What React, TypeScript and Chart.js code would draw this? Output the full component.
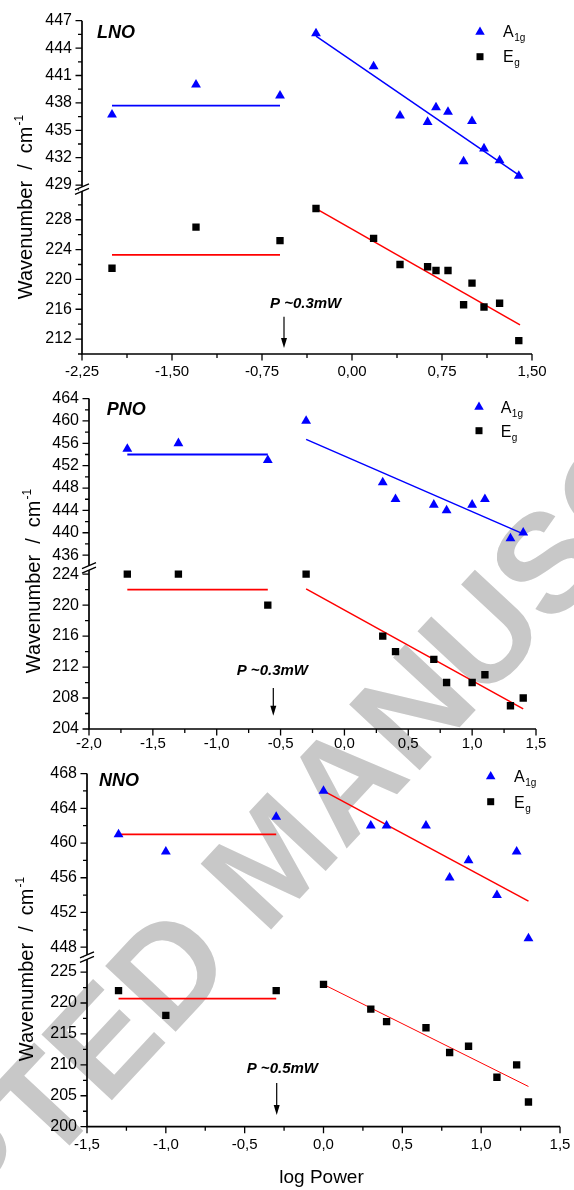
import React, { useEffect, useRef } from "react";
import { Chart, registerables } from "chart.js";

Chart.register(...registerables);

const FONT = "'Liberation Sans', Arial, Helvetica, sans-serif";
const BLUE = "#0000ff";
const RED = "#ff0000";

// ---------------- LNO ----------------
const LNO_X = [-2.0, -1.3, -0.6, -0.3, 0.18, 0.4, 0.63, 0.7, 0.8, 0.93, 1.0, 1.1, 1.23, 1.39];
const LNO_A1G = [436.7, 440.0, 438.8, 445.6, 442.0, 436.6, 435.9, 437.5, 437.0, 431.6, 436.0, 433.0, 431.7, 430.0];
const LNO_EG = [221.5, 227.0, 225.2, 229.5, 225.5, 222.0, 221.7, 221.2, 221.2, 216.6, 219.5, 216.3, 216.8, 211.8];
const LNO_A1G_FIT1_X = [-2.0, -0.6];
const LNO_A1G_FIT1_Y = [437.7, 437.7];
const LNO_A1G_FIT2_X = [-0.3, 1.4];
const LNO_A1G_FIT2_Y = [445.3, 430.0];
const LNO_EG_FIT1_X = [-2.0, -0.6];
const LNO_EG_FIT1_Y = [223.3, 223.3];
const LNO_EG_FIT2_X = [-0.3, 1.4];
const LNO_EG_FIT2_Y = [229.5, 213.9];
const LNO_X_TICKS = [-2.25, -1.5, -0.75, 0, 0.75, 1.5];
const LNO_X_LABELS = ["-2,25", "-1,50", "-0,75", "0,00", "0,75", "1,50"];
const LNO_UP_TICKS = [429, 432, 435, 438, 441, 444, 447];
const LNO_LO_TICKS = [212, 216, 220, 224, 228];

// ---------------- PNO ----------------
const PNO_X = [-1.7, -1.3, -0.6, -0.3, 0.3, 0.4, 0.7, 0.8, 1.0, 1.1, 1.3, 1.4];
const PNO_A1G = [455, 456, 453, 460, 449, 446, 445, 444, 445, 446, 439, 440];
const PNO_EG = [224, 224, 220, 224, 216, 214, 213, 210, 210, 211, 207, 208];
const PNO_A1G_FIT1_X = [-1.7, -0.6];
const PNO_A1G_FIT1_Y = [454, 454];
const PNO_A1G_FIT2_X = [-0.3, 1.4];
const PNO_A1G_FIT2_Y = [456.7, 439.8];
const PNO_EG_FIT1_X = [-1.7, -0.6];
const PNO_EG_FIT1_Y = [222, 222];
const PNO_EG_FIT2_X = [-0.3, 1.4];
const PNO_EG_FIT2_Y = [222.1, 206.6];
const PNO_X_TICKS = [-2, -1.5, -1, -0.5, 0, 0.5, 1, 1.5];
const PNO_X_LABELS = ["-2,0", "-1,5", "-1,0", "-0,5", "0,0", "0,5", "1,0", "1,5"];
const PNO_UP_TICKS = [436, 440, 444, 448, 452, 456, 460, 464];
const PNO_LO_TICKS = [204, 208, 212, 216, 220, 224];

// ---------------- NNO ----------------
const NNO_X = [-1.3, -1.0, -0.3, 0.0, 0.3, 0.4, 0.65, 0.8, 0.92, 1.1, 1.225, 1.3];
const NNO_A1G = [461, 459, 463, 466, 462, 462, 462, 456, 458, 454, 459, 449];
const NNO_EG = [222, 218, 222, 223, 219, 217, 216, 212, 213, 208, 210, 204];
const NNO_A1G_FIT1_X = [-1.3, -0.3];
const NNO_A1G_FIT1_Y = [461, 461];
const NNO_A1G_FIT2_X = [0, 1.3];
const NNO_A1G_FIT2_Y = [466, 453.3];
const NNO_EG_FIT1_X = [-1.3, -0.3];
const NNO_EG_FIT1_Y = [220.7, 220.7];
const NNO_EG_FIT2_X = [0, 1.3];
const NNO_EG_FIT2_Y = [223, 206.5];
const NNO_X_TICKS = [-1.5, -1, -0.5, 0, 0.5, 1, 1.5];
const NNO_X_LABELS = ["-1,5", "-1,0", "-0,5", "0,0", "0,5", "1,0", "1,5"];
const NNO_UP_TICKS = [448, 452, 456, 460, 464, 468];
const NNO_LO_TICKS = [200, 205, 210, 215, 220, 225];

type Fit = { x: number[]; y: number[]; axis: string; color: string; width: number };

type PanelCfg = {
  top: number; height: number; padTop: number; padRight: number; yWidth: number; xHeight: number;
  xMin: number; xMax: number; xTicks: number[]; xLabels: string[]; xMinorStep: number; xLabelPad: number;
  upMin: number; upMax: number; upTicks: number[]; upMinorStep: number; upH: number;
  loMin: number; loMax: number; loTicks: number[]; loMinorStep: number; loH: number;
  xs: number[]; a1g: number[]; eg: number[]; fits: Fit[];
  name: string; nameX: number; nameY: number;
  legX: number; legTxtX: number; legAY: number; legATxtY: number; legEY: number; legETxtY: number;
  pText: string; pX: number; pY: number; arrowX: number; arrowY1: number; arrowY2: number;
  titleX: number; titleY: number; xTitle?: string; xTitleX?: number; xTitleY?: number;
};

const LNO_CFG: PanelCfg = {
  top: 0, height: 385, padTop: 20.7, padRight: 42, yWidth: 82, xHeight: 31,
  xMin: -2.25, xMax: 1.5, xTicks: LNO_X_TICKS, xLabels: LNO_X_LABELS, xMinorStep: 0.375, xLabelPad: 3,
  upMin: 428.75, upMax: 447, upTicks: LNO_UP_TICKS, upMinorStep: 1.5, upH: 1,
  loMin: 210, loMax: 232.34, loTicks: LNO_LO_TICKS, loMinorStep: 2, loH: 1,
  xs: LNO_X, a1g: LNO_A1G, eg: LNO_EG,
  fits: [
    { x: LNO_A1G_FIT1_X, y: LNO_A1G_FIT1_Y, axis: "yUp", color: BLUE, width: 1.8 },
    { x: LNO_A1G_FIT2_X, y: LNO_A1G_FIT2_Y, axis: "yUp", color: BLUE, width: 1.5 },
    { x: LNO_EG_FIT1_X, y: LNO_EG_FIT1_Y, axis: "yLo", color: RED, width: 1.8 },
    { x: LNO_EG_FIT2_X, y: LNO_EG_FIT2_Y, axis: "yLo", color: RED, width: 1.5 },
  ],
  name: "LNO", nameX: 97, nameY: 38.3,
  legX: 480, legTxtX: 503, legAY: 30.7, legATxtY: 37.3, legEY: 56.7, legETxtY: 62.3,
  pText: "P ~0.3mW", pX: 270, pY: 308.3, arrowX: 284, arrowY1: 316.7, arrowY2: 348,
  titleX: 32, titleY: 207,
};

const PNO_CFG: PanelCfg = {
  top: 385, height: 375, padTop: 13.3, padRight: 38, yWidth: 89, xHeight: 31,
  xMin: -2, xMax: 1.5, xTicks: PNO_X_TICKS, xLabels: PNO_X_LABELS, xMinorStep: 0.25, xLabelPad: 0,
  upMin: 434.03, upMax: 464, upTicks: PNO_UP_TICKS, upMinorStep: 2, upH: 167.7,
  loMin: 204, loMax: 225.03, loTicks: PNO_LO_TICKS, loMinorStep: 2, loH: 163,
  xs: PNO_X, a1g: PNO_A1G, eg: PNO_EG,
  fits: [
    { x: PNO_A1G_FIT1_X, y: PNO_A1G_FIT1_Y, axis: "yUp", color: BLUE, width: 1.8 },
    { x: PNO_A1G_FIT2_X, y: PNO_A1G_FIT2_Y, axis: "yUp", color: BLUE, width: 1.5 },
    { x: PNO_EG_FIT1_X, y: PNO_EG_FIT1_Y, axis: "yLo", color: RED, width: 1.8 },
    { x: PNO_EG_FIT2_X, y: PNO_EG_FIT2_Y, axis: "yLo", color: RED, width: 1.5 },
  ],
  name: "PNO", nameX: 106.7, nameY: 415,
  legX: 479, legTxtX: 500.7, legAY: 405.7, legATxtY: 412.7, legEY: 430.7, legETxtY: 437.3,
  pText: "P ~0.3mW", pX: 236.7, pY: 675, arrowX: 273.3, arrowY1: 688, arrowY2: 715.7,
  titleX: 40, titleY: 581,
};

const NNO_CFG: PanelCfg = {
  top: 760, height: 430, padTop: 12.7, padRight: 14, yWidth: 87, xHeight: 63.3,
  xMin: -1.5, xMax: 1.5, xTicks: NNO_X_TICKS, xLabels: NNO_X_LABELS, xMinorStep: 0.25, xLabelPad: 3,
  upMin: 447.05, upMax: 468, upTicks: NNO_UP_TICKS, upMinorStep: 2, upH: 182.3,
  loMin: 200, loMax: 227.69, loTicks: NNO_LO_TICKS, loMinorStep: 2.5, loH: 171.7,
  xs: NNO_X, a1g: NNO_A1G, eg: NNO_EG,
  fits: [
    { x: NNO_A1G_FIT1_X, y: NNO_A1G_FIT1_Y, axis: "yUp", color: RED, width: 1.8 },
    { x: NNO_A1G_FIT2_X, y: NNO_A1G_FIT2_Y, axis: "yUp", color: RED, width: 1.5 },
    { x: NNO_EG_FIT1_X, y: NNO_EG_FIT1_Y, axis: "yLo", color: RED, width: 1.8 },
    { x: NNO_EG_FIT2_X, y: NNO_EG_FIT2_Y, axis: "yLo", color: RED, width: 1.0 },
  ],
  name: "NNO", nameX: 99, nameY: 786,
  legX: 490.7, legTxtX: 514, legAY: 775, legATxtY: 782.3, legEY: 801.7, legETxtY: 808.3,
  pText: "P ~0.5mW", pX: 246.7, pY: 1073.3, arrowX: 276.7, arrowY1: 1083, arrowY2: 1115,
  titleX: 33, titleY: 969, xTitle: "log Power", xTitleX: 321.5, xTitleY: 1183,
};

function minorVals(min: number, max: number, ref: number, step: number): number[] {
  const out: number[] = [];
  const start = ref + Math.ceil((min - ref) / step - 1e-9) * step;
  for (let v = start; v <= max + 1e-9; v += step) out.push(v);
  return out;
}

function makeDeco(cfg: PanelCfg) {
  return {
    id: "deco" + cfg.name,
    afterDraw(chart: any) {
      const ctx: CanvasRenderingContext2D = chart.ctx;
      const ca = chart.chartArea;
      const xs = chart.scales.x;
      const yu = chart.scales.yUp;
      const yl = chart.scales.yLo;
      const T = cfg.top;
      ctx.save();
      ctx.strokeStyle = "#000";
      ctx.fillStyle = "#000";
      // axes
      ctx.lineWidth = 1.7;
      ctx.beginPath();
      ctx.moveTo(ca.left, ca.top);
      ctx.lineTo(ca.left, ca.bottom);
      ctx.lineTo(ca.right, ca.bottom);
      ctx.stroke();
      // ticks
      ctx.lineWidth = 1.3;
      ctx.beginPath();
      const yT = (scale: any, vals: number[], len: number) => {
        vals.forEach((v) => {
          if (v < scale.min - 1e-6 || v > scale.max + 1e-6) return;
          const p = scale.getPixelForValue(v);
          ctx.moveTo(ca.left - len, p);
          ctx.lineTo(ca.left, p);
        });
      };
      yT(yu, cfg.upTicks, 6.5);
      yT(yu, minorVals(yu.min, yu.max, cfg.upTicks[0], cfg.upMinorStep), 4);
      yT(yl, cfg.loTicks, 6.5);
      yT(yl, minorVals(yl.min, yl.max, cfg.loTicks[0], cfg.loMinorStep), 4);
      const xT = (vals: number[], len: number) => {
        vals.forEach((v) => {
          if (v < xs.min - 1e-6 || v > xs.max + 1e-6) return;
          const p = xs.getPixelForValue(v);
          ctx.moveTo(p, ca.bottom);
          ctx.lineTo(p, ca.bottom + len);
        });
      };
      xT(cfg.xTicks, 6.5);
      xT(minorVals(xs.min, xs.max, cfg.xTicks[0], cfg.xMinorStep), 4);
      ctx.stroke();
      // axis break
      const bx = ca.left;
      const by = yu.bottom + 1;
      ctx.fillStyle = "#fff";
      ctx.beginPath();
      ctx.moveTo(bx - 3, by - 0.5);
      ctx.lineTo(bx + 3, by - 3);
      ctx.lineTo(bx + 3, by + 1.5);
      ctx.lineTo(bx - 3, by + 4);
      ctx.closePath();
      ctx.fill();
      ctx.strokeStyle = "#000";
      ctx.lineWidth = 1.3;
      ctx.beginPath();
      ctx.moveTo(bx - 7, by + 1.5);
      ctx.lineTo(bx + 7, by - 4.5);
      ctx.moveTo(bx - 7, by + 6);
      ctx.lineTo(bx + 7, by);
      ctx.stroke();
      ctx.fillStyle = "#000";
      // panel name
      ctx.font = `italic bold 18px ${FONT}`;
      ctx.textAlign = "left";
      ctx.textBaseline = "alphabetic";
      ctx.fillText(cfg.name, cfg.nameX, cfg.nameY - T);
      // legend
      const r = 5.5;
      const tx = cfg.legX;
      const ty = cfg.legAY - T + 0.25 * r;
      ctx.fillStyle = BLUE;
      ctx.beginPath();
      ctx.moveTo(tx, ty - r);
      ctx.lineTo(tx + 0.866 * r, ty + 0.5 * r);
      ctx.lineTo(tx - 0.866 * r, ty + 0.5 * r);
      ctx.closePath();
      ctx.fill();
      ctx.fillStyle = "#000";
      ctx.fillRect(cfg.legX - 3.5, cfg.legEY - T - 3.5, 7, 7);
      ctx.font = `16px ${FONT}`;
      ctx.fillText("A", cfg.legTxtX, cfg.legATxtY - T);
      const wa = ctx.measureText("A").width;
      ctx.fillText("E", cfg.legTxtX, cfg.legETxtY - T);
      const we = ctx.measureText("E").width;
      ctx.font = `10px ${FONT}`;
      ctx.fillText("1g", cfg.legTxtX + wa + 0.5, cfg.legATxtY - T + 4);
      ctx.fillText("g", cfg.legTxtX + we + 0.5, cfg.legETxtY - T + 4);
      // P annotation
      ctx.font = `italic bold 15px ${FONT}`;
      ctx.fillText(cfg.pText, cfg.pX, cfg.pY - T);
      ctx.lineWidth = 1.2;
      ctx.beginPath();
      ctx.moveTo(cfg.arrowX, cfg.arrowY1 - T);
      ctx.lineTo(cfg.arrowX, cfg.arrowY2 - T - 6);
      ctx.stroke();
      ctx.beginPath();
      ctx.moveTo(cfg.arrowX, cfg.arrowY2 - T);
      ctx.lineTo(cfg.arrowX - 3, cfg.arrowY2 - T - 10);
      ctx.lineTo(cfg.arrowX + 3, cfg.arrowY2 - T - 10);
      ctx.closePath();
      ctx.fill();
      // y title
      ctx.save();
      ctx.translate(cfg.titleX, cfg.titleY - T);
      ctx.rotate(-Math.PI / 2);
      ctx.font = `20px ${FONT}`;
      const main = "Wavenumber  /  cm";
      const w1 = ctx.measureText(main).width;
      ctx.font = `12px ${FONT}`;
      const w2 = ctx.measureText("-1").width;
      const total = w1 + w2 + 1;
      ctx.font = `20px ${FONT}`;
      ctx.fillText(main, -total / 2, 0);
      ctx.font = `12px ${FONT}`;
      ctx.fillText("-1", -total / 2 + w1 + 1, -9);
      ctx.restore();
      // x title
      if (cfg.xTitle) {
        ctx.font = `19px ${FONT}`;
        ctx.textAlign = "center";
        ctx.fillText(cfg.xTitle, cfg.xTitleX as number, (cfg.xTitleY as number) - T);
      }
      ctx.restore();
    },
  };
}

function Panel({ cfg }: { cfg: PanelCfg }) {
  const ref = useRef<HTMLCanvasElement>(null);
  useEffect(() => {
    const datasets: any[] = [];
    cfg.fits.forEach((f) => {
      datasets.push({
        type: "scatter",
        data: f.x.map((x, i) => ({ x, y: f.y[i] })),
        showLine: true,
        borderColor: f.color,
        borderWidth: f.width,
        pointRadius: 0,
        yAxisID: f.axis,
        order: 2,
      });
    });
    datasets.push({
      type: "scatter",
      data: cfg.xs.map((x, i) => ({ x, y: cfg.a1g[i] })),
      pointStyle: "triangle",
      pointRadius: 5.7,
      backgroundColor: BLUE,
      borderColor: BLUE,
      borderWidth: 0,
      yAxisID: "yUp",
      order: 1,
    });
    datasets.push({
      type: "scatter",
      data: cfg.xs.map((x, i) => ({ x, y: cfg.eg[i] })),
      pointStyle: "rect",
      pointRadius: 5.2,
      backgroundColor: "#000",
      borderColor: "#000",
      borderWidth: 0,
      yAxisID: "yLo",
      order: 1,
    });
    const tickFont = { family: FONT, size: 16 };
    const yScale = (min: number, max: number, ticks: number[], stackWeight: number, weight: number) => ({
      type: "linear",
      position: "left",
      stack: "p",
      stackWeight,
      weight,
      min,
      max,
      grid: { display: false, drawTicks: true, tickLength: 6 },
      border: { display: false },
      afterBuildTicks: (s: any) => {
        s.ticks = ticks.map((v) => ({ value: v }));
      },
      afterFit: (s: any) => {
        s.width = cfg.yWidth;
      },
      ticks: {
        font: tickFont,
        color: "#000",
        padding: 4,
        autoSkip: false,
        callback: (v: any) => String(v),
      },
    });
    const chart = new Chart(ref.current as HTMLCanvasElement, {
      type: "scatter",
      data: { datasets },
      options: {
        responsive: false,
        maintainAspectRatio: false,
        animation: false,
        events: [],
        layout: { padding: { top: cfg.padTop, right: cfg.padRight, left: 0, bottom: 0 } },
        plugins: { legend: { display: false }, tooltip: { enabled: false } },
        scales: {
          x: {
            type: "linear",
            position: "bottom",
            min: cfg.xMin,
            max: cfg.xMax,
            grid: { display: false, drawTicks: true, tickLength: 6 },
            border: { display: false },
            afterBuildTicks: (s: any) => {
              s.ticks = cfg.xTicks.map((v) => ({ value: v }));
            },
            afterFit: (s: any) => {
              s.height = cfg.xHeight;
            },
            ticks: {
              font: { family: FONT, size: 15 },
              color: "#000",
              padding: cfg.xLabelPad,
              autoSkip: false,
              maxRotation: 0,
              callback: (v: any) => {
                const i = cfg.xTicks.findIndex((t) => Math.abs(t - v) < 1e-9);
                return i >= 0 ? cfg.xLabels[i] : "";
              },
            },
          },
          yUp: yScale(cfg.upMin, cfg.upMax, cfg.upTicks, cfg.upH, 2),
          yLo: yScale(cfg.loMin, cfg.loMax, cfg.loTicks, cfg.loH, 1),
        } as any,
      },
      plugins: [makeDeco(cfg)],
    } as any);
    return () => chart.destroy();
  }, [cfg]);
  return (
    <canvas
      ref={ref}
      width={574}
      height={cfg.height}
      style={{ position: "absolute", left: 0, top: cfg.top, width: 574, height: cfg.height, zIndex: 1 }}
    />
  );
}

export default function App() {
  return (
    <div
      style={{
        position: "absolute",
        left: 0,
        top: 0,
        width: 574,
        height: 1190,
        overflow: "hidden",
        background: "#fff",
      }}
    >
      <div
        style={{
          position: "absolute",
          left: 272,
          top: 858,
          transform: "translate(-50%, -50%) rotate(-47deg)",
          font: `bold 140px ${FONT}`,
          color: "#c8c8c8",
          whiteSpace: "nowrap",
          lineHeight: 1,
          zIndex: 0,
        }}
      >
        ACCEPTED MANUSCRIPT
      </div>
      <Panel cfg={LNO_CFG} />
      <Panel cfg={PNO_CFG} />
      <Panel cfg={NNO_CFG} />
    </div>
  );
}
